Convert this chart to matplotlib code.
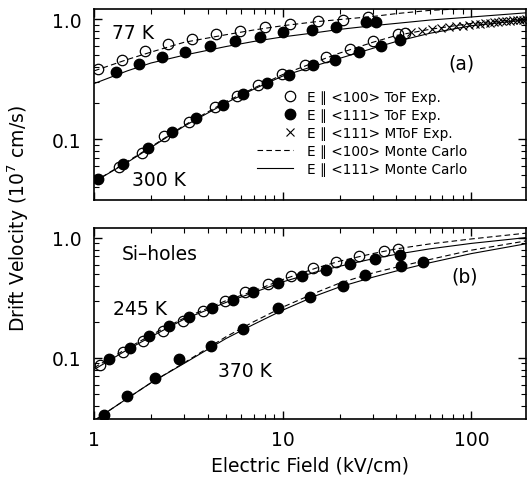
import numpy as np
import matplotlib
matplotlib.use("Agg")
import matplotlib.pyplot as plt
from matplotlib.lines import Line2D
from matplotlib.legend_handler import HandlerLine2DCompound
from matplotlib.ticker import NullFormatter

plt.rcParams['font.family'] = ['DejaVu Sans']
plt.rcParams['mathtext.default'] = 'regular'

# ---- panel (a): 77 K and 300 K ----
E77_100 = [1.05, 1.41, 1.86, 2.46, 3.3, 4.4, 5.9, 8.0, 10.9, 15.4, 20.8, 28.3]
v77_100 = [0.38, 0.46, 0.54, 0.62, 0.68, 0.75, 0.79, 0.86, 0.91, 0.96, 0.99, 1.04]
E77_111 = [1.3, 1.72, 2.29, 3.03, 4.1, 5.6, 7.6, 10.0, 14.2, 19.2, 27.7, 31.3]
v77_111 = [0.36, 0.42, 0.48, 0.53, 0.60, 0.66, 0.71, 0.78, 0.81, 0.86, 0.94, 0.94]

E300_100 = [1.35, 1.79, 2.35, 3.19, 4.37, 5.69, 7.4, 9.96, 13.1, 17.0, 22.6, 30.0, 40.7, 44.2]
v300_100 = [0.058, 0.076, 0.107, 0.139, 0.184, 0.227, 0.282, 0.348, 0.411, 0.482, 0.566, 0.656, 0.755, 0.765]
E300_111 = [1.05, 1.43, 1.94, 2.58, 3.47, 4.8, 6.17, 8.2, 10.8, 14.4, 18.8, 25.4, 33.3, 41.6]
v300_111 = [0.046, 0.062, 0.084, 0.115, 0.149, 0.193, 0.237, 0.291, 0.343, 0.414, 0.458, 0.531, 0.592, 0.664]

E300_mtof = [48, 55, 62, 69, 76, 83, 90, 97, 104, 111, 118, 125, 132, 139, 146,
             153, 160, 167, 174, 181, 188, 195]
v300_mtof = [0.78, 0.80, 0.82, 0.84, 0.855, 0.87, 0.88, 0.895, 0.905, 0.915, 0.925,
             0.93, 0.94, 0.945, 0.955, 0.96, 0.965, 0.975, 0.98, 0.985, 0.99, 1.0]

# Monte Carlo curves
E_mc = [1, 1.5, 2, 3, 5, 7, 10, 15, 20, 30, 40, 60, 100, 200]
mc77_100 = [0.37, 0.46, 0.53, 0.64, 0.74, 0.81, 0.88, 0.95, 0.99, 1.05, 1.11, 1.18, 1.23, 1.28]
mc77_111 = [0.29, 0.37, 0.43, 0.50, 0.59, 0.65, 0.71, 0.77, 0.82, 0.88, 0.92, 0.98, 1.04, 1.13]
mc300_100 = [0.044, 0.065, 0.086, 0.13, 0.205, 0.265, 0.345, 0.44, 0.52, 0.64, 0.73, 0.82, 0.92, 1.01]
mc300_111 = [0.044, 0.064, 0.085, 0.128, 0.20, 0.26, 0.335, 0.41, 0.47, 0.57, 0.65, 0.76, 0.88, 0.99]

# ---- panel (b): 245 K and 370 K ----
E245_100 = [1.08, 1.43, 1.82, 2.31, 2.97, 3.79, 4.93, 6.29, 8.36, 11.1, 14.4, 19.2, 25.5, 34.6, 40.7]
v245_100 = [0.088, 0.111, 0.137, 0.167, 0.202, 0.245, 0.296, 0.353, 0.414, 0.485, 0.557,
            0.634, 0.701, 0.782, 0.806]
E245_111 = [1.2, 1.54, 1.96, 2.5, 3.19, 4.2, 5.42, 6.97, 9.44, 12.6, 16.9, 22.6, 30.7, 41.6]
v245_111 = [0.097, 0.121, 0.151, 0.183, 0.221, 0.26, 0.303, 0.356, 0.417, 0.483, 0.537,
            0.61, 0.67, 0.727]
E370_111 = [1.13, 1.5, 2.1, 2.83, 4.14, 6.17, 9.38, 14.0, 20.8, 27.2, 42.5, 55.2]
v370_111 = [0.0334, 0.0482, 0.068, 0.0977, 0.125, 0.174, 0.259, 0.319, 0.40, 0.495, 0.579, 0.63]

mc245_100 = [0.083, 0.12, 0.155, 0.215, 0.30, 0.36, 0.45, 0.56, 0.64, 0.74, 0.81, 0.89, 0.98, 1.10]
mc245_111 = [0.080, 0.117, 0.15, 0.21, 0.29, 0.35, 0.43, 0.52, 0.58, 0.67, 0.73, 0.81, 0.90, 1.01]
mc370_100 = [0.030, 0.046, 0.062, 0.091, 0.15, 0.20, 0.265, 0.35, 0.42, 0.51, 0.57, 0.66, 0.79, 0.95]
mc370_111 = [0.030, 0.046, 0.062, 0.090, 0.145, 0.19, 0.25, 0.33, 0.39, 0.47, 0.53, 0.62, 0.74, 0.90]

legend_labels = ["E \u2225 <100> ToF Exp.", "E \u2225 <111> ToF Exp.", "E \u2225 <111> MToF Exp.",
                 "E \u2225 <100> Monte Carlo", "E \u2225 <111> Monte Carlo"]

MS = 7.5
LW = 0.8
DASH = (5, 3)
FS = 13.5


class MarkerRight(HandlerLine2DCompound):
    # put the marker at the right end of the handle, next to the text
    def get_xdata(self, legend, xdescent, ydescent, width, height, fontsize):
        xdata, _ = super().get_xdata(legend, xdescent, ydescent, width, height, fontsize)
        return xdata, np.array([width - xdescent - 0.2 * fontsize])


def style_axes(ax):
    ax.set_xscale('log')
    ax.set_yscale('log')
    ax.set_xlim(1, 195)
    ax.set_ylim(0.031, 1.21)
    ax.set_xticks([1, 10, 100], ["1", "10", "100"])
    ax.set_yticks([0.1, 1.0], ["0.1", "1.0"])
    ax.xaxis.set_minor_formatter(NullFormatter())
    ax.yaxis.set_minor_formatter(NullFormatter())
    ax.tick_params(which='both', direction='in', top=True, right=True, labelsize=FS)
    ax.tick_params(which='major', length=6, width=1.0)
    ax.tick_params(which='minor', length=3.5, width=0.8)
    ax.tick_params(axis='x', pad=8)
    ax.tick_params(axis='y', pad=9)
    for s in ax.spines.values():
        s.set_linewidth(1.2)


fig = plt.figure(figsize=(5.29, 4.81), dpi=100)
ax1 = fig.add_axes([0.178, 0.582, 0.8166, 0.397])
ax2 = fig.add_axes([0.178, 0.127, 0.8166, 0.397])

# panel (a)
ax1.plot(E_mc, mc77_100, color='k', lw=LW, ls='--', dashes=DASH)
ax1.plot(E_mc, mc77_111, color='k', lw=LW)
ax1.plot(E_mc, mc300_100, color='k', lw=LW, ls='--', dashes=DASH)
ax1.plot(E_mc, mc300_111, color='k', lw=LW)
ax1.plot(E77_100, v77_100, 'o', mfc='none', mec='k', mew=0.9, ms=MS)
ax1.plot(E300_100, v300_100, 'o', mfc='none', mec='k', mew=0.9, ms=MS)
ax1.plot(E77_111, v77_111, 'o', color='k', ms=MS)
ax1.plot(E300_111, v300_111, 'o', color='k', ms=MS)
ax1.plot(E300_mtof, v300_mtof, 'x', color='k', ms=6, mew=0.8)
style_axes(ax1)
ax1.tick_params(axis='x', labelbottom=False)

ax1.text(0.042, 0.88, "77 K", transform=ax1.transAxes, fontsize=FS, va='center')
ax1.text(0.088, 0.11, "300 K", transform=ax1.transAxes, fontsize=FS, va='center')
ax1.text(0.85, 0.72, "(a)", transform=ax1.transAxes, fontsize=FS, va='center', ha='center')

h1 = Line2D([], [], ls='none', marker='o', mfc='none', mec='k', mew=0.9, ms=MS)
h2 = Line2D([], [], ls='none', marker='o', color='k', ms=MS)
h3 = Line2D([], [], ls='none', marker='x', color='k', ms=6, mew=0.8)
h4 = Line2D([], [], ls='--', color='k', lw=LW, dashes=DASH)
h5 = Line2D([], [], ls='-', color='k', lw=LW)
ax1.legend([h1, h2, h3, h4, h5], legend_labels,
           handler_map={h1: MarkerRight(), h2: MarkerRight(), h3: MarkerRight()},
           loc='upper left', bbox_to_anchor=(0.377, 0.575), frameon=False,
           fontsize=9.8, handlelength=2.65, handletextpad=1.0, labelspacing=0.28,
           borderpad=0, borderaxespad=0, numpoints=1)

# panel (b)
ax2.plot(E_mc, mc245_100, color='k', lw=LW, ls='--', dashes=DASH)
ax2.plot(E_mc, mc245_111, color='k', lw=LW)
ax2.plot(E_mc, mc370_100, color='k', lw=LW, ls='--', dashes=DASH)
ax2.plot(E_mc, mc370_111, color='k', lw=LW)
ax2.plot(E245_100, v245_100, 'o', mfc='none', mec='k', mew=0.9, ms=MS)
ax2.plot(E245_111, v245_111, 'o', color='k', ms=MS)
ax2.plot(E370_111, v370_111, 'o', color='k', ms=MS)
style_axes(ax2)

ax2.text(0.065, 0.864, "Si\u2013holes", transform=ax2.transAxes, fontsize=FS, va='center')
ax2.text(0.044, 0.576, "245 K", transform=ax2.transAxes, fontsize=FS, va='center')
ax2.text(0.287, 0.251, "370 K", transform=ax2.transAxes, fontsize=FS, va='center')
ax2.text(0.857, 0.749, "(b)", transform=ax2.transAxes, fontsize=FS, va='center', ha='center')

ax2.set_xlabel("Electric Field (kV/cm)", fontsize=FS, labelpad=5)
fig.text(0.034, 0.545, "Drift Velocity (10$^7$ cm/s)", rotation=90, fontsize=FS,
         ha='center', va='center')

fig.savefig("out.png", dpi=100)
